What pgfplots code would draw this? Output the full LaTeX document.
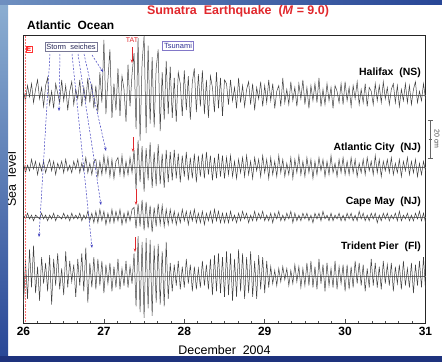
\documentclass[border=0pt]{standalone}
\usepackage{fontspec}
\setmainfont{Liberation Sans}
\usepackage{pgfplots}
\usepackage{pgfplotstable}
\pgfplotsset{compat=1.18}
\usetikzlibrary{arrows.meta}

\definecolor{bgblue}{RGB}{40,70,150}
\definecolor{bgdark}{RGB}{30,50,125}
\definecolor{bglight}{RGB}{140,175,210}
\definecolor{trace}{RGB}{65,65,65}
\definecolor{titlered}{RGB}{225,40,45}
\definecolor{seiche}{RGB}{60,60,190}
\definecolor{boxgray}{RGB}{120,120,150}
\definecolor{seichetext}{RGB}{40,40,90}
\definecolor{tsuborder}{RGB}{130,120,200}
\definecolor{tsutext}{RGB}{50,50,150}

% t = day of December 2004; h,a,c,p = sea level anomaly (cm) at
% Halifax, Atlantic City, Cape May, Trident Pier
\pgfplotstableread{
t h a c p
26.000 2 2 1 -15
26.025 -3 -3 -1 8
26.050 5 1 2 -12
26.075 -1 -2 -1 14
26.100 6 4 1 -6
26.125 -4 -1 -2 16
26.150 3 3 1 -9
26.175 8 -4 0 5
26.200 -2 2 -1 -13
26.225 4 -2 2 10
26.250 -6 3 -1 -4
26.275 5 -3 1 7
26.300 9 1 -2 -8
26.325 -5 4 1 11
26.350 2 -2 -1 -15
26.375 -7 3 2 9
26.400 6 -4 -2 -5
26.425 1 2 1 12
26.450 -4 -1 0 -7
26.475 8 3 -1 4
26.500 -3 -3 2 -10
26.525 5 4 -1 13
26.550 -8 -2 1 -6
26.575 2 1 -2 8
26.600 7 -3 2 -3
26.625 -5 3 -1 6
26.650 3 -1 1 -11
26.675 -2 4 -1 9
26.700 8 -3 2 -5
26.725 -6 2 -2 12
26.750 4 -2 1 -8
26.775 -3 5 -1 15
26.800 9 -3 3 -14
26.825 -4 2 -2 7
26.850 6 -4 2 -6
26.875 -7 3 -3 10
26.900 5 4 3 -7
26.925 -9 -5 -3 9
26.950 12 3 4 -5
26.975 -4 -4 -2 8
27.000 29 6 3 -9
27.025 -10 -3 -4 6
27.050 8 5 2 -4
27.075 24 -5 -3 7
27.100 -12 4 4 -8
27.125 6 -6 -3 5
27.150 -8 3 3 -6
27.175 14 5 -2 9
27.200 -11 -4 4 -7
27.225 10 6 -4 4
27.250 3 -5 2 -5
27.275 -14 3 -3 8
27.300 16 -4 3 -6
27.325 -6 5 -2 5
27.350 11 -3 4 -4
27.375 22 9 5 12
27.400 -18 -12 -6 -16
27.425 30 14 7 21
27.450 -24 -8 -5 -19
27.475 17 11 9 18
27.500 31 -13 -7 -22
27.525 -20 10 8 20
27.550 26 -7 -6 -17
27.575 -15 13 6 19
27.600 20 -11 -8 -21
27.625 -17 8 5 16
27.650 14 -10 -5 -14
27.675 24 12 7 17
27.700 -19 -9 -4 -15
27.725 12 7 6 13
27.750 -13 -11 -5 -16
27.775 18 9 4 18
27.800 -10 -8 -4 -12
27.825 15 8 4 7
27.850 -12 -7 -3 -8
27.875 9 9 3 6
27.900 -14 -6 -4 -5
27.925 12 7 2 8
27.950 6 -8 -3 -7
27.975 -11 6 4 5
28.000 13 -5 -2 -6
28.025 -8 8 3 9
28.050 10 -7 -4 -4
28.075 -13 5 3 6
28.100 7 -6 -2 -8
28.125 14 7 4 5
28.150 -9 -8 -3 -7
28.175 11 6 2 4
28.200 -6 -5 -3 -6
28.225 13 7 3 8
28.250 -10 -6 -4 -5
28.275 8 8 2 6
28.300 -12 -4 -2 -7
28.325 10 6 3 9
28.350 4 -7 -3 -10
28.375 -9 5 4 11
28.400 12 -6 -2 -8
28.425 -7 7 3 12
28.450 9 -5 -3 -9
28.475 -11 6 2 10
28.500 8 -6 -3 -11
28.525 6 5 2 13
28.550 -5 -4 -3 -10
28.575 8 6 3 12
28.600 -3 -5 -2 -13
28.625 4 3 1 9
28.650 -7 -6 -3 -11
28.675 9 4 2 14
28.700 -4 -3 -2 -8
28.725 5 5 3 12
28.750 -6 -5 -1 -12
28.775 3 6 2 10
28.800 7 -4 -3 -9
28.825 -5 3 1 13
28.850 6 -6 -2 -11
28.875 -8 5 3 8
28.900 4 -2 -2 -12
28.925 -2 4 2 11
28.950 7 -5 -1 -7
28.975 -6 6 3 10
29.000 5 -3 -2 -9
29.025 -4 4 1 8
29.050 8 -6 -2 -6
29.075 -3 5 2 5
29.100 6 -4 -3 -4
29.125 -7 3 2 3
29.150 2 -5 -1 -5
29.175 5 6 3 4
29.200 -6 -3 -2 -3
29.225 9 4 1 5
29.250 -4 -5 -2 -2
29.275 3 2 2 4
29.300 -5 -4 -1 -5
29.325 7 5 3 3
29.350 -3 -6 -3 -4
29.375 4 4 2 6
29.400 -6 -3 -2 -3
29.425 6 6 1 5
29.450 -2 -4 -2 -6
29.475 8 3 2 4
29.500 -5 -5 -1 -5
29.525 4 5 2 7
29.550 -7 -3 -2 -5
29.575 5 4 1 8
29.600 -3 -6 -3 -6
29.625 6 3 2 5
29.650 -4 -4 -1 -7
29.675 9 5 2 9
29.700 -6 -2 -2 -4
29.725 3 4 3 6
29.750 -5 -5 -1 -8
29.775 6 3 1 7
29.800 -3 -4 -2 -5
29.825 4 6 2 4
29.850 -7 -3 -2 -6
29.875 5 2 1 8
29.900 2 -5 -1 -7
29.925 -4 4 2 5
29.950 6 -3 -2 -4
29.975 -5 5 1 6
30.000 7 -4 -2 -8
30.025 -3 3 2 6
30.050 4 -4 -1 -7
30.075 -6 5 2 5
30.100 5 -3 -2 -6
30.125 -2 4 1 8
30.150 7 -5 -2 -4
30.175 -5 2 3 7
30.200 3 -3 -1 -5
30.225 -4 4 2 6
30.250 6 -4 -2 -8
30.275 -6 5 1 4
30.300 4 -2 -2 -6
30.325 2 3 2 9
30.350 -5 -4 -1 -5
30.375 6 6 2 7
30.400 -3 -3 -3 -6
30.425 5 4 1 5
30.450 -4 -5 -2 -7
30.475 7 3 2 8
30.500 -2 -2 -1 -4
30.525 4 4 2 6
30.550 -5 -3 -2 -5
30.575 3 5 1 7
30.600 6 -4 -1 -8
30.625 -4 2 2 5
30.650 5 -3 -2 -4
30.675 -6 4 3 6
30.700 3 -5 -2 -7
30.725 -3 3 1 8
30.750 6 -2 -1 -5
30.775 -4 5 2 4
30.800 5 -4 -2 -6
30.825 -5 3 1 7
30.850 3 -3 -2 -9
30.875 7 4 2 6
30.900 -4 -5 -1 -5
30.925 2 2 3 8
30.950 -3 -4 -2 -6
30.975 6 3 2 10
31.000 -2 -2 -3 -7
}\sealevel

\begin{document}
\begin{tikzpicture}
\useasboundingbox (0,0) rectangle (442bp,-362bp);
\fill[bgblue] (0,0) rectangle (442bp,-362bp);
\fill[white] (8bp,-4bp) rectangle (442bp,-356bp);

\begin{axis}[
  at={(23.5bp,-323bp)}, anchor=south west,
  scale only axis, width=402bp, height=288bp,
  xmin=26, xmax=31, ymin=0, ymax=151.6,
  xtick={26,27,28,29,30,31}, minor x tick num=5,
  ytick=\empty, xtick pos=left,
  tick align=inside, major tick length=4bp, minor tick length=2.5bp,
  axis line style={black!85, line width=0.9pt},
  tick style={black!70, line width=0.5pt},
  /pgf/number format/assume math mode=true,
  xticklabel style={font=\fontsize{12}{13}\selectfont\bfseries, yshift=-1bp},
  xlabel={December\ \ 2004},
  xlabel style={at={(axis description cs:0.5,0)}, anchor=center, yshift=-27bp,
    font=\fontsize{12.5}{13}\selectfont},
  ylabel={Sea\ \ level},
  ylabel style={at={(axis description cs:0,0.5)}, anchor=center, yshift=12bp,
    font=\fontsize{12.5}{13}\selectfont},
  clip=false,
]
\addplot[black!55, line width=0.3pt] coordinates {(26,120) (31,120)};
\addplot[black!55, line width=0.3pt] coordinates {(26,82.1) (31,82.1)};
\addplot[black!55, line width=0.3pt] coordinates {(26,55.8) (31,55.8)};
\addplot[black!55, line width=0.3pt] coordinates {(26,24.7) (31,24.7)};
\addplot[trace, line width=0.5pt] table[x=t, y expr=\thisrow{h}+120] {\sealevel};
\addplot[trace, line width=0.5pt] table[x=t, y expr=\thisrow{a}+82.1] {\sealevel};
\addplot[trace, line width=0.5pt] table[x=t, y expr=\thisrow{c}+55.8] {\sealevel};
\addplot[trace, line width=0.5pt] table[x=t, y expr=\thisrow{p}+24.7] {\sealevel};
\end{axis}

% red dotted line (earthquake time)
\draw[red!55, densely dotted, line width=0.5pt] (25.5bp,-36bp) -- (25.5bp,-322bp);
\node[draw=red!80, text=red, font=\fontsize{6.5}{7}\selectfont\bfseries, inner sep=1pt] at (29bp,-49bp) {E};

% titles
\node[font=\fontsize{12.5}{14}\selectfont\bfseries, text=titlered] at (238bp,-11bp)
  {Sumatra\ \ Earthquake\ \ (\textit{M} = 9.0)};
\node[font=\fontsize{12}{14}\selectfont\bfseries, anchor=west, inner sep=0pt] at (27bp,-25bp)
  {Atlantic\ \ Ocean};

% station labels
\begin{scope}[every node/.style={font=\fontsize{10.5}{12}\selectfont\bfseries, anchor=east, inner sep=0pt}]
\node at (421bp,-73bp) {Halifax\ \ (NS)};
\node at (421bp,-148bp) {Atlantic City\ \ (NJ)};
\node at (421bp,-202bp) {Cape May\ \ (NJ)};
\node at (421bp,-247bp) {Trident Pier\ \ (Fl)};
\end{scope}

% boxes
\node[draw=boxgray, line width=0.6pt, inner sep=1.5pt, font=\fontsize{7.5}{8}\selectfont, text=seichetext] at (71bp,-47bp) {Storm\ \ seiches};
\node[draw=tsuborder, line width=0.6pt, inner sep=1.5pt, font=\fontsize{7.5}{8}\selectfont, text=tsutext] at (178bp,-46bp) {Tsunami};
\node[text=titlered, font=\fontsize{7}{8}\selectfont] at (132bp,-40bp) {TAT};

% storm seiche arrows
\begin{scope}[seiche, dash pattern=on 2bp off 1.5bp, line width=0.5pt, -{Stealth[length=3.5bp,width=2.5bp]}]
\draw (50bp,-54bp) -- (39bp,-237bp);
\draw (60bp,-54bp) -- (59bp,-111bp);
\draw (72bp,-54bp) -- (92bp,-248bp);
\draw (78bp,-54bp) -- (101bp,-205bp);
\draw (84bp,-54bp) -- (106bp,-151bp);
\draw (92bp,-55bp) -- (103bp,-72bp);
\end{scope}

% TAT arrows
\begin{scope}[titlered, line width=0.6pt, -{Stealth[length=3.5bp,width=2.5bp]}]
\draw (132bp,-47bp) -- (132bp,-63bp);
\draw (133bp,-137bp) -- (133bp,-152bp);
\draw (136bp,-189bp) -- (136bp,-205bp);
\draw (135bp,-237bp) -- (135bp,-252bp);
\end{scope}

% scale bar
\draw[black!60, line width=0.6pt] (430bp,-120bp) -- (430bp,-158bp)
  (427.5bp,-120bp) -- (432.5bp,-120bp) (427.5bp,-158bp) -- (432.5bp,-158bp)
  (428.5bp,-139bp) -- (431.5bp,-139bp);
\node[rotate=-90, font=\fontsize{7}{8}\selectfont, text=black!70, inner sep=0.5pt] at (437bp,-139bp) {20 cm};

% frame of slide background over the panel edges
\shade[top color=bglight, bottom color=bgblue] (0,0) rectangle (8bp,-362bp);
\fill[bgdark] (0,-356bp) rectangle (442bp,-362bp);
\shade[left color=bglight!70!bgblue, right color=bgblue] (0,0) rectangle (442bp,-4bp);
\end{tikzpicture}
\end{document}
